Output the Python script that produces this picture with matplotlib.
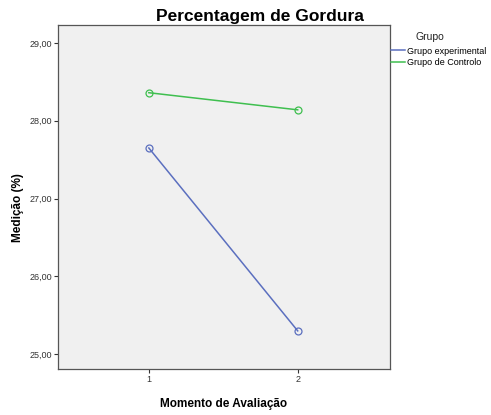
import matplotlib
matplotlib.use('Agg')
import matplotlib.pyplot as plt
from matplotlib.lines import Line2D

plt.rcParams['font.family'] = ['Liberation Sans', 'DejaVu Sans']

# Dados
momentos = [1, 2]
grupo_experimental = [27.65, 25.30]
grupo_controlo = [28.36, 28.14]
series_nomes = ["Grupo experimental", "Grupo de Controlo"]
y_ticks = [25, 26, 27, 28, 29]
y_labels = ["25,00", "26,00", "27,00", "28,00", "29,00"]

cor_exp = "#5b6fbf"
cor_ctl = "#3fbf4f"

fig = plt.figure(figsize=(4.91, 4.15), dpi=100)
ax = fig.add_axes([58 / 491, 1 - 369 / 415, 332 / 491, 344 / 415])
ax.set_facecolor("#f0f0f0")

ax.plot(momentos, grupo_experimental, color=cor_exp, lw=1.1, marker="o",
        markersize=5, markerfacecolor="none", markeredgewidth=0.9)
ax.plot(momentos, grupo_controlo, color=cor_ctl, lw=1.1, marker="o",
        markersize=5, markerfacecolor="none", markeredgewidth=0.9)

ax.set_xlim(0.39, 2.62)
ax.set_ylim(24.81, 29.23)
ax.set_xticks(momentos)
ax.set_yticks(y_ticks)
ax.set_yticklabels(y_labels)
ax.tick_params(labelsize=6.5, colors="#333333", length=3, width=0.8, pad=1.5)
for s in ax.spines.values():
    s.set_color("#555555")
    s.set_linewidth(0.9)

ax.set_xlabel("Momento de Avaliação", fontsize=8.5, fontweight="bold", labelpad=10)
ax.set_ylabel("Medição (%)", fontsize=8.5, fontweight="bold")
# posicao do rotulo y em pixels da figura
ax.yaxis.set_label_coords(24 / 491, 0.5, transform=fig.transFigure)
fig.text(260 / 491, 1 - 16 / 415, "Percentagem de Gordura",
         fontsize=12.5, fontweight="bold", ha="center", va="center")

# Legenda
fig.text(430 / 491, 1 - 37 / 415, "Grupo", fontsize=7.5, ha="center", va="center",
         color="#222222")
handles = [Line2D([], [], color=cor_exp, lw=1.1), Line2D([], [], color=cor_ctl, lw=1.1)]
fig.legend(handles, series_nomes, loc="upper left", bbox_to_anchor=(391 / 491, 1 - 46.5 / 415),
           frameon=False, fontsize=6.5, handlelength=1.6, handletextpad=0.2,
           labelspacing=0.3, borderpad=0, borderaxespad=0)

plt.savefig("out.png", dpi=100)
